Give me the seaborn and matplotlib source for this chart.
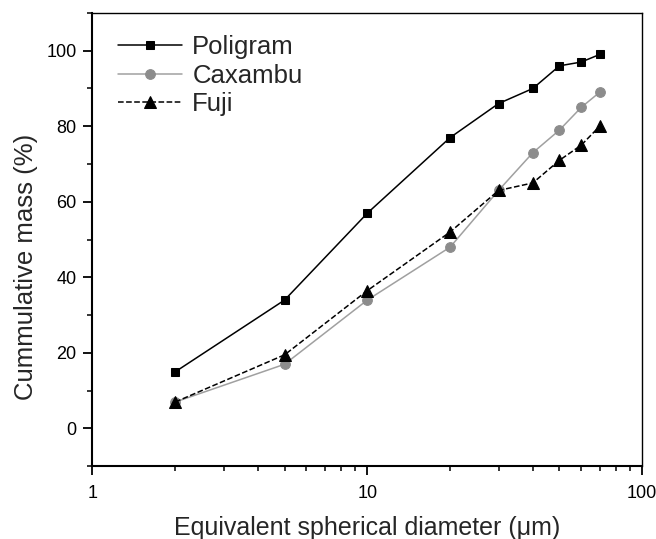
import numpy as np
import pandas as pd
import matplotlib
matplotlib.use("Agg")
import matplotlib.pyplot as plt
import seaborn as sns
from matplotlib.ticker import FixedLocator, NullFormatter, MultipleLocator

# Data
diameter = [2, 5, 10, 20, 30, 40, 50, 60, 70]
poligram = [15, 34, 57, 77, 86, 90, 96, 97, 99]
caxambu = [7, 17, 34, 48, 63, 73, 79, 85, 89]
fuji = [7, 19.5, 36.5, 52, 63, 65, 71, 75, 80]

sns.set_style("ticks")
plt.rcParams['font.family'] = ['Liberation Sans', 'DejaVu Sans']

fig = plt.figure(figsize=(6.56, 5.39), dpi=100)
ax = fig.add_axes([0.141, 0.135, 0.838, 0.841])

sns.lineplot(x=diameter, y=poligram, ax=ax, color='black', lw=1.1,
             marker='s', markersize=6, markeredgecolor='black', label='Poligram')
sns.lineplot(x=diameter, y=caxambu, ax=ax, color='#a0a0a0', lw=1.1,
             marker='o', markersize=7, markerfacecolor='#8c8c8c',
             markeredgecolor='#8c8c8c', label='Caxambu')
sns.lineplot(x=diameter, y=fuji, ax=ax, color='black', lw=1.1, linestyle='--',
             marker='^', markersize=8.5, markeredgecolor='black', label='Fuji')

ax.set_xscale('log')
ax.set_xlim(1, 100)
ax.set_ylim(-10, 110)
ax.set_xticks([1, 10, 100])
ax.set_xticklabels(['1', '10', '100'])
ax.xaxis.set_minor_locator(FixedLocator([i * 10 ** d for d in range(0, 2) for i in range(2, 10)]))
ax.xaxis.set_minor_formatter(NullFormatter())
ax.set_yticks([0, 20, 40, 60, 80, 100])
ax.yaxis.set_minor_locator(MultipleLocator(10))

ax.tick_params(which='major', direction='out', length=6.5, width=1.3, labelsize=13,
               colors='black', pad=5)
ax.tick_params(axis='x', which='major', pad=7)
ax.tick_params(which='minor', direction='out', length=3.5, width=1.3)
for side, s in ax.spines.items():
    s.set_color('black')
    s.set_linewidth(1.5 if side in ('left', 'bottom') else 1.0)

ax.set_xlabel('Equivalent spherical diameter (\u03bcm)', fontsize=18, labelpad=10)
ax.set_ylabel('Cummulative mass (%)', fontsize=18.5)
ax.yaxis.set_label_coords(-0.10, 0.44)

leg = ax.legend(loc='upper left', frameon=False, fontsize=18.5, handlelength=2.5,
                handletextpad=0.4, labelspacing=0.17, borderaxespad=0.2,
                bbox_to_anchor=(0.018, 0.985))

fig.savefig('out.png', dpi=100)
